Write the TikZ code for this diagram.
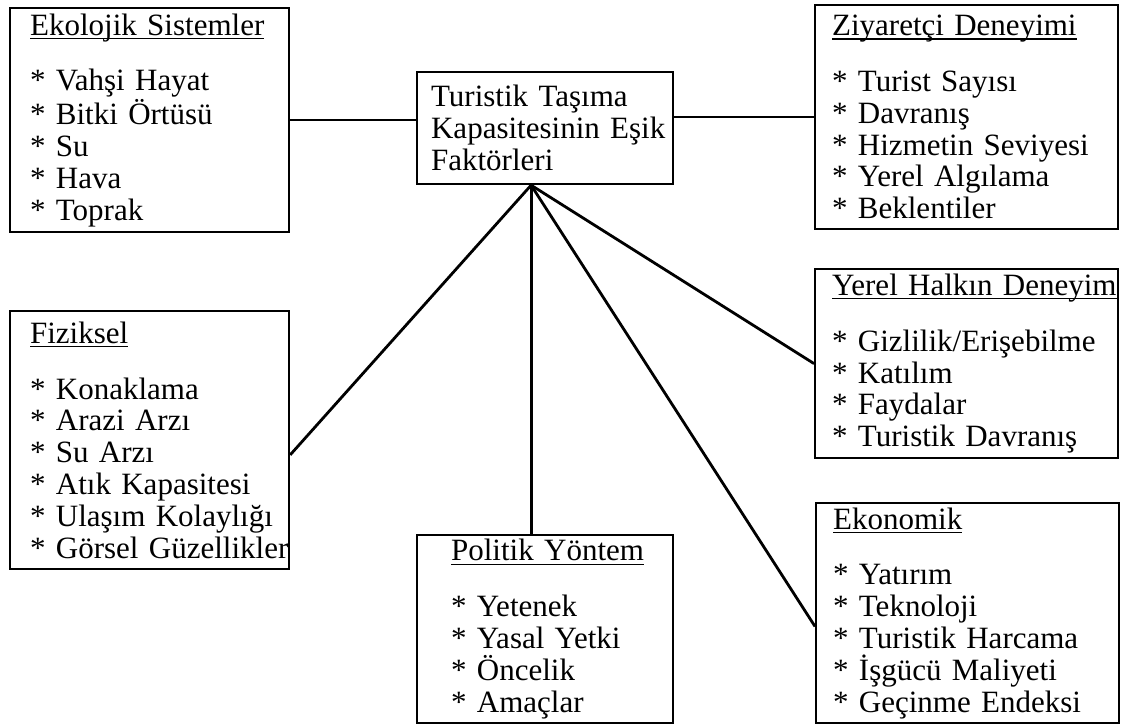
\documentclass[tikz,border=0pt]{standalone}
\usepackage{fontspec}
\setmainfont{Liberation Serif}
\usetikzlibrary{positioning}

\newcommand{\baslik}[1]{\setbox0\hbox{#1}\rlap{\rule[-2pt]{\wd0}{0.7pt}}\box0}

\begin{document}
\begin{tikzpicture}[x=0.5pt, y=-0.5pt,
    kutu/.style={draw, line width=1.1pt, anchor=north west, align=left,
                 inner ysep=0pt, font=\fontsize{15.5}{15.9}\selectfont},
    baglanti/.style={line width=1.4pt}]
    \useasboundingbox (0,0) rectangle (1122,726);

    % Kutular
    \node[kutu, minimum width=139.5pt, minimum height=112pt, text width=119.5pt, inner xsep=10pt] (Eko) at (9,7)
        {\baslik{Ekolojik Sistemler}\\[12pt]
         {*} Vahşi Hayat\\ {*} Bitki Örtüsü\\ {*} Su\\ {*} Hava\\ {*} Toprak};
    \node[kutu, minimum width=128pt, minimum height=56pt, text width=114pt, inner xsep=7pt] (TT) at (416,71)
        {Turistik Taşıma\\ \mbox{Kapasitesinin Eşik}\\ Faktörleri};
    \node[kutu, minimum width=151.5pt, minimum height=112pt, text width=134.5pt, inner xsep=8.5pt] (Ziy) at (814,4)
        {\baslik{Ziyaretçi Deneyimi}\\[12pt]
         {*} Turist Sayısı\\ {*} Davranış\\ {*} Hizmetin Seviyesi\\ {*} Yerel Algılama\\ {*} Beklentiler};
    \node[kutu, minimum width=151.5pt, minimum height=94.5pt, text width=134.5pt, inner xsep=8.5pt] (Yer) at (814,268)
        {\baslik{Yerel Halkın Deneyim}\\[12pt]
         {*} Gizlilik/Erişebilme\\ {*} Katılım\\ {*} Faydalar\\ {*} Turistik Davranış};
    \node[kutu, minimum width=139.5pt, minimum height=129pt, text width=119.5pt, inner xsep=10pt] (Fiz) at (9,310)
        {\baslik{Fiziksel}\\[12pt]
         {*} Konaklama\\ {*} Arazi Arzı\\ {*} Su Arzı\\ {*} Atık Kapasitesi\\
         \mbox{* Ulaşım Kolaylığı}\\ \mbox{* Görsel Güzellikler}};
    \node[kutu, minimum width=128pt, minimum height=94pt, text width=94pt, inner xsep=17pt] (Pol) at (416,534)
        {\baslik{Politik Yöntem}\\[12pt]
         {*} Yetenek\\ {*} Yasal Yetki\\ {*} Öncelik\\ {*} Amaçlar};
    \node[kutu, minimum width=151.5pt, minimum height=110pt, text width=134.5pt, inner xsep=8.5pt] (Ekn) at (815,502)
        {\baslik{Ekonomik}\\[12pt]
         {*} Yatırım\\ {*} Teknoloji\\ {*} Turistik Harcama\\ {*} İşgücü Maliyeti\\ {*} Geçinme Endeksi};

    % Bağlantılar
    \coordinate (tepe) at ([xshift=-7pt]TT.south);
    \draw[baglanti] (Eko.east) -- (Eko.east -| TT.west);
    \draw[baglanti] (Ziy.west) -- (Ziy.west -| TT.east);
    \draw[baglanti] (tepe) -- (Fiz.354);
    \draw[baglanti] (tepe) -- (tepe |- Pol.north);
    \draw[baglanti] (tepe) -- (Yer.west);
    \draw[baglanti] (tepe) -- (Ekn.185);

\end{tikzpicture}
\end{document}
